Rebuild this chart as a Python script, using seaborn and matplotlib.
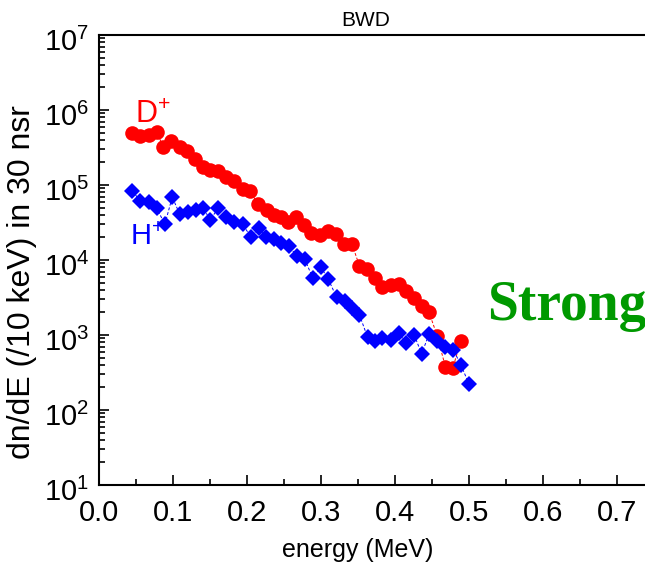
import matplotlib
matplotlib.use("Agg")
import matplotlib.pyplot as plt
import matplotlib.transforms as mtransforms
from matplotlib.ticker import (MultipleLocator, FormatStrFormatter, LogLocator,
                               NullFormatter, FixedLocator)
import seaborn as sns

# D+ spectrum (energy in MeV, counts per 10 keV in 30 nsr)
energy_d = [0.044, 0.055, 0.067, 0.078, 0.087, 0.097, 0.109, 0.119, 0.130, 0.140,
            0.150, 0.161, 0.172, 0.182, 0.194, 0.204, 0.215, 0.227, 0.237, 0.246,
            0.256, 0.266, 0.277, 0.287, 0.299, 0.310, 0.320, 0.331, 0.342, 0.352,
            0.362, 0.373, 0.383, 0.395, 0.405, 0.415, 0.426, 0.436, 0.446, 0.457,
            0.468, 0.478, 0.489]
counts_d = [4.9e5, 4.5e5, 4.6e5, 5.1e5, 3.2e5, 3.9e5, 3.2e5, 2.8e5, 2.2e5, 1.75e5,
            1.58e5, 1.55e5, 1.29e5, 1.14e5, 8.8e4, 8.2e4, 5.6e4, 4.6e4, 4.0e4, 3.7e4,
            3.2e4, 3.7e4, 2.9e4, 2.3e4, 2.15e4, 2.45e4, 2.2e4, 1.62e4, 1.62e4, 8.3e3,
            7.5e3, 5.7e3, 4.4e3, 4.7e3, 4.8e3, 3.9e3, 3.1e3, 2.4e3, 2.0e3, 980,
            380, 360, 840]

# H+ spectrum
energy_h = [0.045, 0.056, 0.068, 0.078, 0.089, 0.099, 0.109, 0.120, 0.131, 0.141,
            0.150, 0.161, 0.172, 0.182, 0.194, 0.205, 0.216, 0.226, 0.237, 0.246,
            0.257, 0.267, 0.278, 0.289, 0.300, 0.310, 0.321, 0.332, 0.342, 0.352,
            0.363, 0.373, 0.383, 0.395, 0.405, 0.415, 0.426, 0.436, 0.446, 0.457,
            0.468, 0.479, 0.489, 0.500]
counts_h = [8.2e4, 6.2e4, 5.9e4, 4.9e4, 3.0e4, 6.9e4, 4.1e4, 4.3e4, 4.6e4, 5.0e4,
            3.4e4, 4.9e4, 3.8e4, 3.2e4, 3.0e4, 2.05e4, 2.65e4, 2.0e4, 1.9e4, 1.67e4,
            1.54e4, 1.13e4, 1.03e4, 5.7e3, 8.0e3, 5.5e3, 3.2e3, 2.8e3, 2.3e3, 1.85e3,
            930, 820, 900, 860, 1.05e3, 790, 1.0e3, 560, 1.03e3, 820,
            700, 630, 400, 222]

# decade ticks on the count axis
y_decades = [1e1, 1e2, 1e3, 1e4, 1e5, 1e6, 1e7]

sns.set_theme(style="ticks")
plt.rcParams["font.family"] = ["Liberation Sans", "DejaVu Sans"]
plt.rcParams["mathtext.fontset"] = "custom"
plt.rcParams["mathtext.rm"] = "Liberation Sans"
plt.rcParams["mathtext.default"] = "regular"

W, H = 645, 570
fig = plt.figure(figsize=(W / 100, H / 100), dpi=100)
fig.patch.set_facecolor("white")
x_max = 0.74
ax = fig.add_axes([99 / W, 1 - 485 / H, 740 * x_max / W, 450 / H])
ax.set_facecolor("white")

sns.lineplot(x=energy_d, y=counts_d, ax=ax, color="#ff0000", marker="o",
             markersize=10.5, markeredgewidth=0, linewidth=0.7,
             linestyle=(0, (3, 2)), zorder=3)
sns.lineplot(x=energy_h, y=counts_h, ax=ax, color="#0000ff", marker="D",
             markersize=8.5, markeredgewidth=0, linewidth=0.7,
             linestyle=(0, (3, 2)), zorder=4)

ax.set_yscale("log")
ax.set_ylim(y_decades[0], y_decades[-1])
ax.set_xlim(0, x_max)
ax.xaxis.set_major_locator(MultipleLocator(0.1))
ax.xaxis.set_minor_locator(MultipleLocator(0.05))
ax.xaxis.set_major_formatter(FormatStrFormatter("%.1f"))
ax.yaxis.set_major_locator(FixedLocator(y_decades))
ax.yaxis.set_minor_locator(LogLocator(base=10, subs=range(2, 10), numticks=100))
ax.yaxis.set_minor_formatter(NullFormatter())

ax.tick_params(which="both", direction="in", top=False, right=False,
               colors="black", labelsize=21, width=1.2)
ax.tick_params(which="major", length=7)
ax.tick_params(which="minor", length=4)
ax.tick_params(axis="x", which="major", pad=10)
ax.tick_params(axis="y", which="major", pad=7)
for side in ("left", "bottom", "top"):
    ax.spines[side].set_linewidth(1.5)
    ax.spines[side].set_color("black")
ax.spines["right"].set_visible(False)
ax.set_xlabel("")
ax.set_ylabel("")

# sit the "10" of each decade label on the tick, exponent above it
shift_down = mtransforms.ScaledTranslation(0, -4 / 100, fig.dpi_scale_trans)
for tick in ax.yaxis.get_major_ticks():
    tick.label1.set_transform(tick.label1.get_transform() + shift_down)

fig.text(366 / W, 1 - 20 / H, "BWD", ha="center", va="center", fontsize=15, color="black")
fig.text(22 / W, 1 - 282 / H, "dn/dE (/10 keV) in 30 nsr", rotation=90,
         ha="center", va="center", fontsize=23, color="black")
fig.text(358 / W, 1 - 550 / H, "energy (MeV)", ha="center", va="center",
         fontsize=18, color="black")
fig.text(153 / W, 1 - 115 / H, "D$^{+}$", ha="center", va="center",
         fontsize=22, color="#ff0000")
fig.text(147 / W, 1 - 237 / H, "H$^{+}$", ha="center", va="center",
         fontsize=21, color="#0000ff")
fig.text(487 / W, 1 - 320 / H, "Strong", ha="left", va="baseline",
         fontsize=40, fontweight="bold", color="#009900",
         family=["Liberation Serif", "DejaVu Serif"])

fig.savefig("out.png", dpi=100)
